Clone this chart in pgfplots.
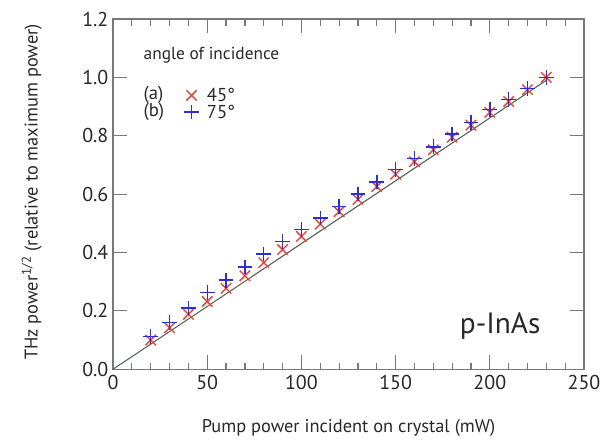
\documentclass[border=0pt]{standalone}
\usepackage{pgfplots}
\pgfplotsset{compat=1.18}
\usepackage{fontspec}
\setmainfont{PT Sans}

\definecolor{redx}{RGB}{232,72,58}
\definecolor{blueplus}{RGB}{45,45,215}
\definecolor{axgray}{RGB}{120,120,120}
\definecolor{txt}{RGB}{40,40,40}

\begin{document}
\begin{tikzpicture}
\begin{axis}[
  scale only axis, width=353pt, height=262.5pt,
  xmin=0, xmax=250, ymin=0, ymax=1.2,
  xtick={0,50,100,150,200,250}, minor x tick num=4,
  ytick={0,0.2,0.4,0.6,0.8,1.0,1.2},
  yticklabels={0.0,0.2,0.4,0.6,0.8,1.0,1.2},
  tick align=inside,
  major tick length=10.5pt, minor tick length=5pt,
  axis line style={axgray, line width=0.9pt},
  every tick/.style={axgray, line width=0.9pt},
  /pgf/number format/assume math mode=true,
  tick label style={font=\fontsize{15}{17}\selectfont, text=txt},
  xticklabel style={yshift=-1pt},
  label style={font=\fontsize{13.8}{15}\selectfont, text=txt},
  xlabel={Pump power incident on crystal (mW)},
  xlabel style={at={(rel axis cs:0.5,0)}, anchor=center, yshift=-44pt},
  ylabel={THz power\textsuperscript{1/2} (relative to maximum power)},
  ylabel style={at={(rel axis cs:0,0.506)}, anchor=center, yshift=61pt},
  legend style={draw=none, fill=none, at={(rel axis cs:0.142,0.811)}, anchor=north west,
    font=\fontsize{14}{15}\selectfont, row sep=1.5pt, text=txt,
    nodes={text height=9pt, text depth=0pt, inner ysep=1pt}},
  legend cell align=left,
]
\addplot[forget plot, color={rgb,255:red,85;green,95;blue,85}, line width=0.8pt] coordinates {(0,0) (230,0.99)};
\addplot[only marks, mark=x, mark size=5.5pt, color=redx, line width=1.1pt] coordinates {
(20,0.100) (30,0.142) (40,0.188) (50,0.232) (60,0.277) (70,0.320) (80,0.365) (90,0.410)
(100,0.455) (110,0.497) (120,0.540) (130,0.582) (140,0.626) (150,0.668) (160,0.711)
(170,0.752) (180,0.795) (190,0.836) (200,0.880) (210,0.917) (220,0.958) (230,1.000)};
\addlegendentry{\hspace{4pt}45°}
\addplot[only marks, mark=+, mark size=5.5pt, color=blueplus, line width=1.1pt] coordinates {
(20,0.112) (30,0.160) (40,0.210) (50,0.262) (60,0.305) (70,0.350) (80,0.395) (90,0.437)
(100,0.478) (110,0.518) (120,0.558) (130,0.600) (140,0.642) (150,0.684) (160,0.722)
(170,0.762) (180,0.806) (190,0.846) (200,0.890) (210,0.924) (220,0.962) (230,1.000)};
\addlegendentry{\hspace{4pt}75°}
\node[anchor=west, font=\fontsize{13}{14}\selectfont, text=txt] at (rel axis cs:0.055,0.897) {angle of incidence};
\node[anchor=west, font=\fontsize{14}{15}\selectfont, text=txt] at (rel axis cs:0.055,0.783) {(a)};
\node[anchor=west, font=\fontsize{14}{15}\selectfont, text=txt] at (rel axis cs:0.055,0.734) {(b)};
\node[anchor=base, font=\fontsize{22}{24}\selectfont, text=txt] at (rel axis cs:0.822,0.103) {p-InAs};
\end{axis}
\pgfresetboundingbox
\path (current axis.south west) ++(-84.75pt,-56.25pt) rectangle ([xshift=15pt,yshift=14.25pt]current axis.north east);
\end{tikzpicture}
\end{document}
